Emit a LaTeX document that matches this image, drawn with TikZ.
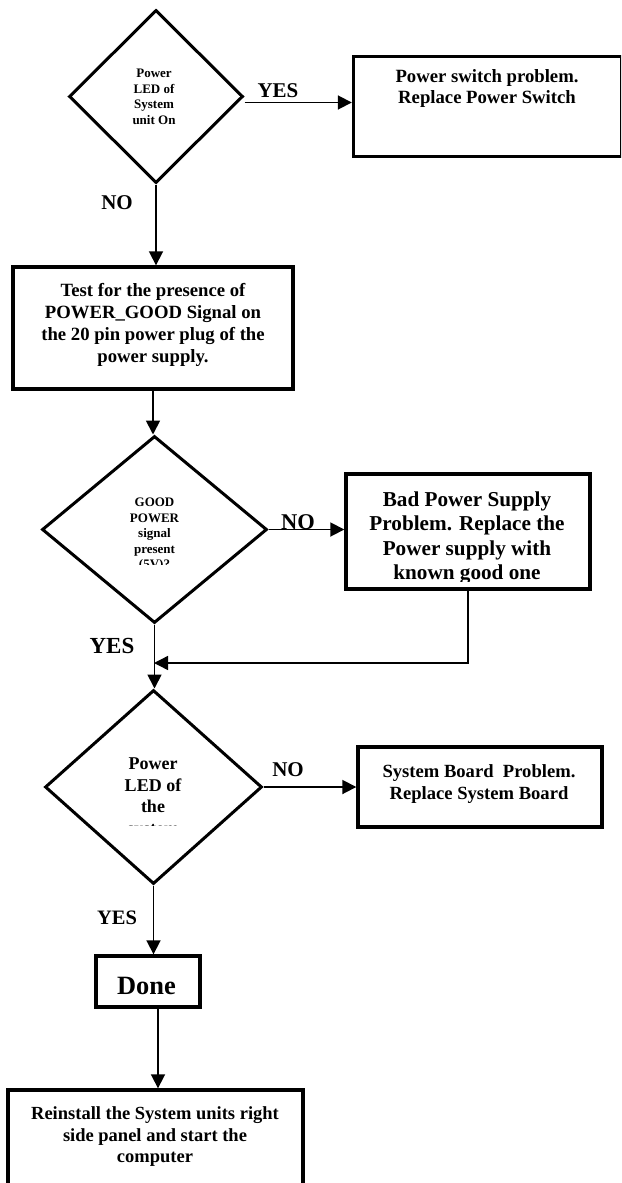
\documentclass[tikz,border=0pt]{standalone}
\usepackage{fontspec}
\setmainfont{Liberation Serif}
\usetikzlibrary{shapes.geometric,arrows.meta}

\tikzset{
  box/.style={draw, rectangle, line width=3.4pt, inner sep=0pt},
  dia/.style={draw, diamond, line width=3pt, inner sep=0pt},
  conn/.style={line width=1.8pt, -{Triangle[length=14pt,width=14pt]}},
  back/.style={line width=1.4pt, -{Triangle[length=14pt,width=14pt]}},
  txt/.style={align=center, inner sep=0pt},
  lbl/.style={inner sep=0pt, font=\bfseries\fontsize{21}{25}\selectfont},
}

\begin{document}
\begin{tikzpicture}[x=1pt,y=-1pt]
\clip (0,0) rectangle (621,1183);

% shapes
\node[dia, minimum width=174pt, minimum height=173pt] (d1) at (156,96.5) {};
\node[box, minimum width=268pt, minimum height=100pt] (b1) at (487.5,106.5) {};
\node[box, minimum width=280pt, minimum height=122pt] (b2) at (153,328) {};
\node[dia, minimum width=225pt, minimum height=187pt] (d2) at (154.5,529.5) {};
\node[box, minimum width=244pt, minimum height=115pt] (b3) at (468,531.5) {};
\node[dia, minimum width=217pt, minimum height=194pt] (d3) at (153.5,787) {};
\node[box, minimum width=244pt, minimum height=80pt] (b4) at (480,787) {};
\node[box, minimum width=104pt, minimum height=51pt] (done) at (148,981.5) {};
\node[box, minimum width=295pt, minimum height=110pt] (b5) at (155.5,1145) {};

% texts
\node[txt, font=\bfseries\fontsize{13}{15.5}\selectfont] (d1t) at (154,97)
  {Power\\LED of\\System\\unit On};
\node[txt, font=\bfseries\fontsize{18.7}{21}\selectfont] (b1t) at (487,89)
  {Power switch problem.\\Replace Power Switch};
\node[txt, font=\bfseries\fontsize{18.7}{22}\selectfont] (b2t) at (153,324.5)
  {Test for the presence of\\POWER\_GOOD Signal on\\the 20 pin power plug of the\\power supply.};
\begin{scope}
  \clip (40,480) rectangle (270,564);
  \node[txt, font=\bfseries\fontsize{13}{15.5}\selectfont] (d2t) at (154.5,535)
    {GOOD\\POWER\\signal\\present\\(5V)?};
\end{scope}
\begin{scope}
  \clip (346,474) rectangle (590,581);
  \node[txt, font=\bfseries\fontsize{21.2}{24.5}\selectfont] (b3t) at (467,538)
    {Bad Power Supply\\Problem. Replace the\\Power supply with\\known good one};
\end{scope}
\begin{scope}
  \clip (40,740) rectangle (270,825);
  \node[txt, font=\bfseries\fontsize{18}{21.5}\selectfont] (d3t) at (153,798)
    {Power\\LED of\\the\\system};
\end{scope}
\node[txt, font=\bfseries\fontsize{18.6}{22}\selectfont] (b4t) at (479,784)
  {System Board~ Problem.\\Replace System Board};
\node[txt, font=\bfseries\fontsize{26.4}{30}\selectfont] (donet) at (146.5,986) {Done};
\node[txt, font=\bfseries\fontsize{18.5}{21.5}\selectfont] (b5t) at (155,1137)
  {Reinstall the System units right\\side panel and start the\\computer};

% branch labels
\node[lbl] (yes1) at (278,91) {YES};
\node[lbl] (no1) at (117,203) {NO};
\node[lbl, font=\bfseries\fontsize{22.5}{26}\selectfont] (no2) at (298,522) {NO};
\node[lbl, font=\bfseries\fontsize{23}{27}\selectfont] (yes2) at (112,646) {YES};
\node[lbl] (no3) at (288,770) {NO};
\node[lbl, font=\bfseries\fontsize{20.5}{24}\selectfont] (yes3) at (117,918) {YES};

% connectors
\coordinate (join) at (154,663);
\draw[conn] ([yshift=-6pt]d1.east) -- ([yshift=-6pt]d1.east -| b1.west);
\draw[conn] (d1.south) -- (d1.south |- b2.north);
\draw[conn] (b2.south) -- (b2.south |- d2.north);
\draw[conn] (d2.east) -- (d2.east -| b3.west);
\draw[back] (b3.south) |- (join);
\draw[conn] (d2.south) -- (d2.south |- d3.north);
\draw[conn] (d3.east) -- (d3.east -| b4.west);
\draw[conn] (d3.south) -- (d3.south |- done.north);
\draw[conn] ([xshift=10pt]done.south) -- ([xshift=10pt]done.south |- b5.north);
\end{tikzpicture}
\end{document}
